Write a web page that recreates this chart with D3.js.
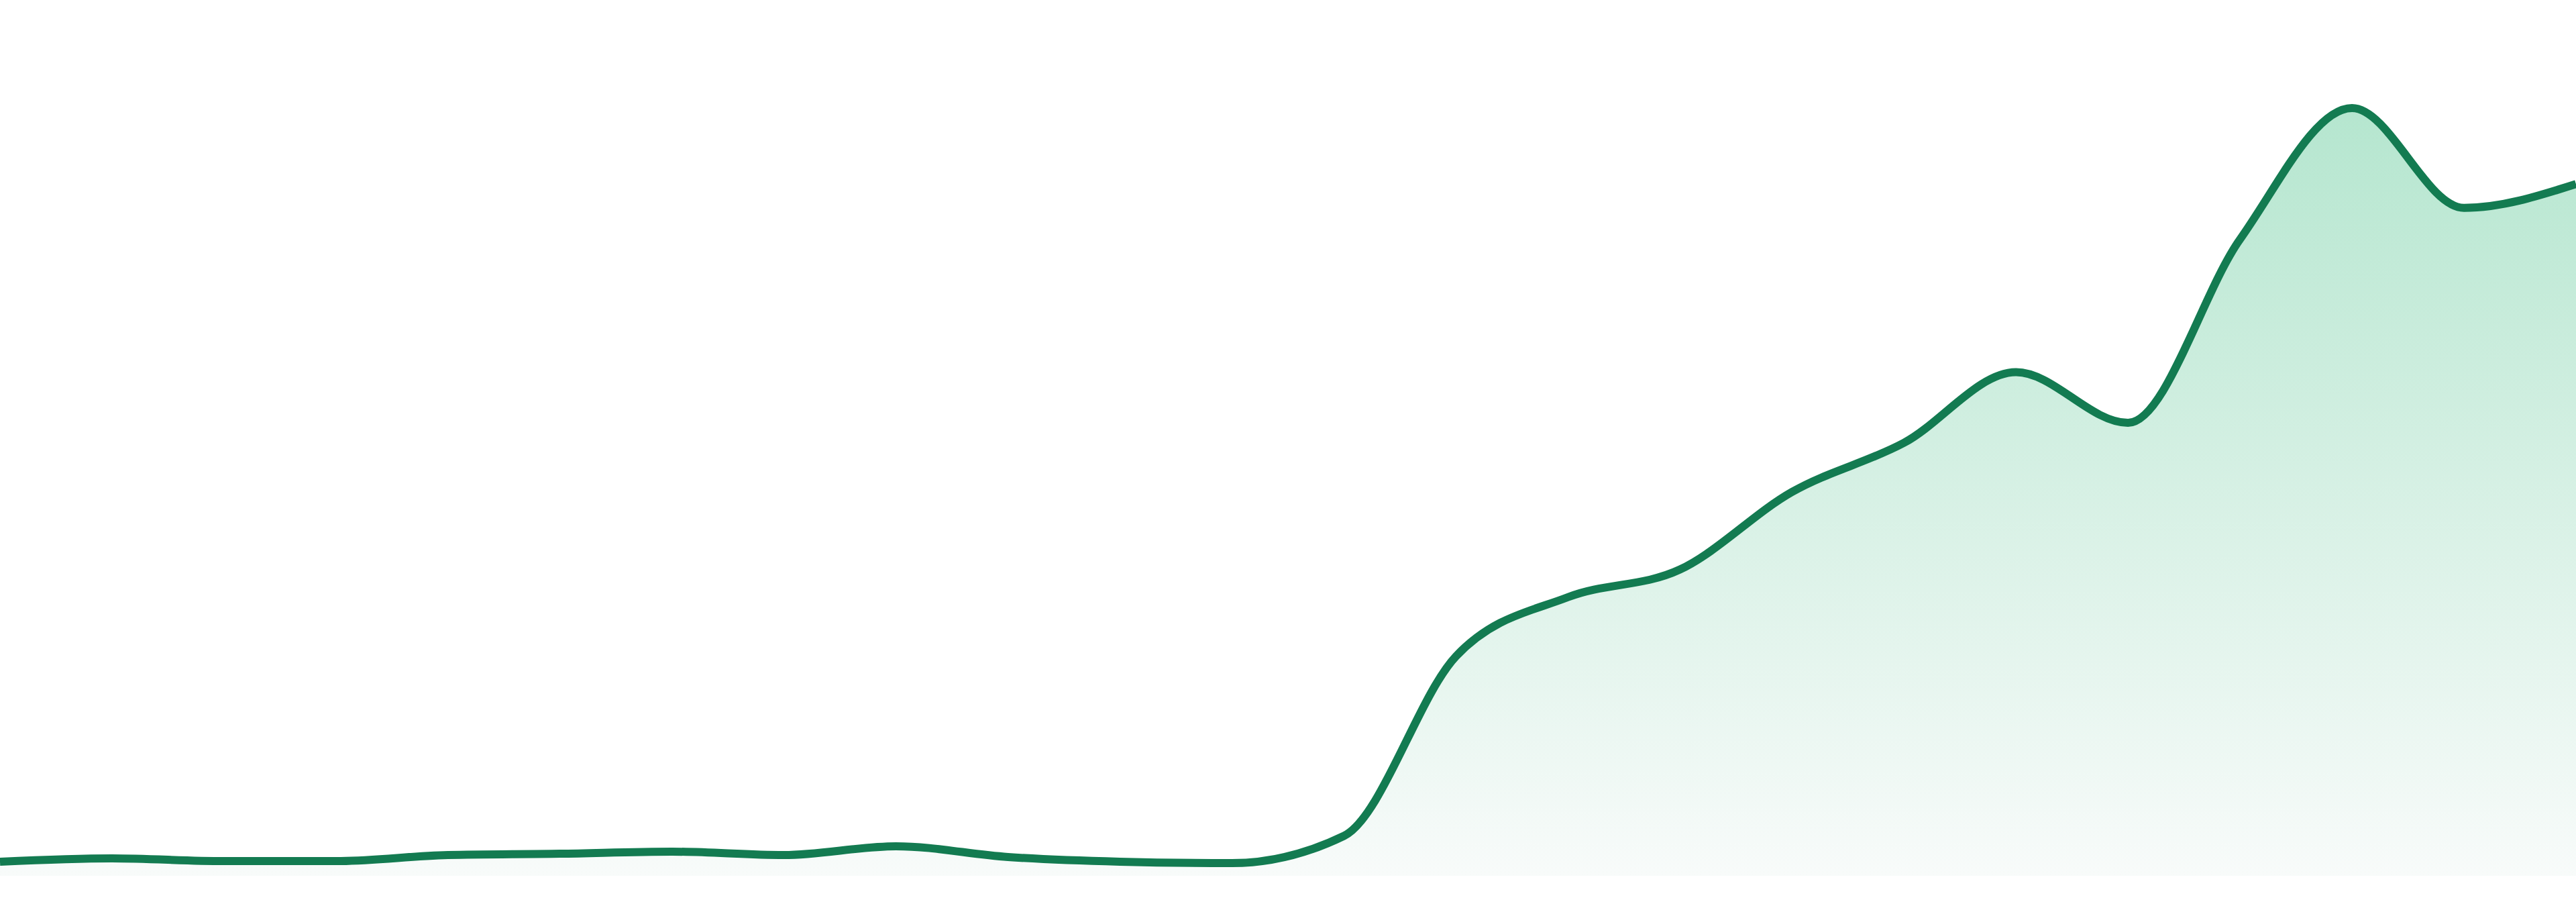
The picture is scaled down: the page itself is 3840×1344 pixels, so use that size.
<!DOCTYPE html>
<html>
<head>
<meta charset="utf-8">
<script src="https://cdn.jsdelivr.net/npm/d3@7"></script>
<style>
  html, body { margin: 0; padding: 0; background: #fff; }
  svg { display: block; }
</style>
</head>
<body>
<svg id="chart"></svg>
<script>
// one sample per step, left to right
var steps = d3.range(24);
var values = [
    1.84, 2.27, 1.92, 1.92, 2.71, 2.88, 3.15, 2.71, 3.85, 2.45, 1.84, 1.66,
    5.2, 28.6, 36.3, 39.9, 50.0, 56.4, 65.6, 59.0, 82.9, 100.0, 87.0, 90.1
];
var yDomain = [0, 100];

var width = 3840, height = 1344;
var plotTop = 161, plotBottom = 1305;

var svg = d3.select('#chart')
    .attr('width', width)
    .attr('height', height);

var x = d3.scaleLinear()
    .domain(d3.extent(steps))
    .range([0, width]);
var y = d3.scaleLinear()
    .domain(yDomain)
    .range([plotBottom, plotTop]);

var data = steps.map(function(s, i) { return {s: s, v: values[i]}; });

var grad = svg.append('defs').append('linearGradient')
    .attr('id', 'area-fill')
    .attr('gradientUnits', 'userSpaceOnUse')
    .attr('x1', 0).attr('x2', 0)
    .attr('y1', y(d3.max(values))).attr('y2', plotBottom);
grad.append('stop').attr('offset', '0%').attr('stop-color', '#b5e6cf');
grad.append('stop').attr('offset', '100%').attr('stop-color', '#f8fbfa');

var area = d3.area()
    .x(function(d) { return x(d.s); })
    .y0(plotBottom)
    .y1(function(d) { return y(d.v); })
    .curve(d3.curveMonotoneX);

var line = d3.line()
    .x(function(d) { return x(d.s); })
    .y(function(d) { return y(d.v); })
    .curve(d3.curveMonotoneX);

svg.append('path')
    .datum(data)
    .attr('d', area)
    .attr('fill', 'url(#area-fill)');

svg.append('path')
    .datum(data)
    .attr('d', line)
    .attr('fill', 'none')
    .attr('stroke', '#137b51')
    .attr('stroke-width', 12)
    .attr('stroke-linejoin', 'round');
</script>
</body>
</html>
